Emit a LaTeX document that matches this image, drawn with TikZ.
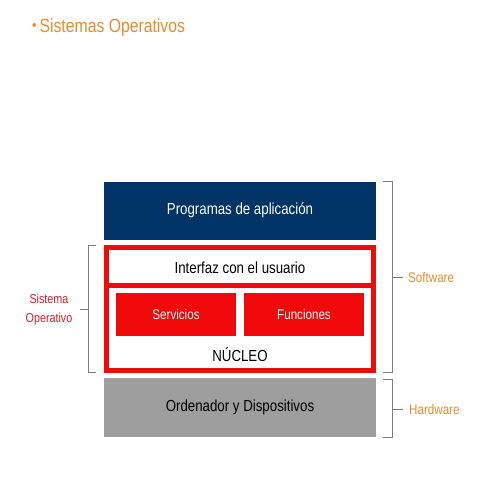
\documentclass[tikz,border=0pt]{standalone}
\usepackage{fontspec}
\setmainfont{Liberation Sans}[FakeStretch=0.83]
\usetikzlibrary{positioning}
\definecolor{titleorange}{RGB}{230,140,45}
\definecolor{appblue}{RGB}{0,51,102}
\definecolor{osred}{RGB}{240,10,10}
\definecolor{labelred}{RGB}{220,30,40}
\definecolor{hwgray}{RGB}{158,158,158}
\definecolor{bracketgray}{RGB}{125,125,125}

\begin{document}
\begin{tikzpicture}[x=1pt,y=-1pt]
 \tikzset{layer/.style = {shape=rectangle,minimum width=272,minimum height=58,inner sep=0pt,font=\fontsize{16}{19}\selectfont}}
 \tikzset{part/.style = {shape=rectangle,fill=osred,text=white,minimum width=120,minimum height=43,inner sep=0pt,font=\fontsize{14}{17}\selectfont}}
 \tikzset{brace/.style = {draw=bracketgray,line width=1pt}}
 \tikzset{side/.style = {text=titleorange,font=\fontsize{14}{17}\selectfont,anchor=west,inner sep=0pt}}
 \useasboundingbox (0,0) rectangle (480,480);

 % title
 \node[anchor=west,inner sep=0pt,text=titleorange,font=\fontsize{19}{22}\selectfont] (title) at (32,28) {\raisebox{2pt}{\fontsize{15}{15}\selectfont•}\hspace{3pt}Sistemas Operativos};

 % layers
 \node[layer,fill=appblue,text=white] (apps) at (240,210.5) {Programas de aplicación};
 \node[layer,draw=osred,line width=5pt,minimum width=267,minimum height=123] (os) at (240,309) {};
 \node[font=\fontsize{16}{19}\selectfont] (ui) at (240,268) {Interfaz con el usuario};
 \draw[osred,line width=5pt] (os.west |- 0,285.5) -- (os.east |- 0,285.5);
 \node[part] (serv) at (176,314.5) {Servicios};
 \node[part] (func) at (304,314.5) {Funciones};
 \node[font=\fontsize{16}{19}\selectfont] (kernel) at (240,355) {NÚCLEO};
 \node[layer,fill=hwgray,minimum height=59] (hw) at (240,407.5) {Ordenador y Dispositivos};

 % brackets
 \draw[brace] (96,245) -- (88,245) -- (88,372) -- (96,372);
 \draw[brace] (88,309) -- (80,309);
 \node[text=labelred,align=center,font=\fontsize{13}{19}\selectfont] (so) at (49,310) {Sistema\\Operativo};

 \draw[brace] (383,181) -- (392,181) -- (392,372) -- (383,372);
 \coordinate (swtick) at (392,277);
 \node[side] (sw) at (408,277) {Software};
 \draw[brace] (swtick) -- (403,277);

 \draw[brace] (383,379) -- (392,379) -- (392,437) -- (383,437);
 \coordinate (hwtick) at (392,409);
 \node[side] (hwlabel) at (409,409) {Hardware};
 \draw[brace] (hwtick) -- (403,409);
\end{tikzpicture}
\end{document}
